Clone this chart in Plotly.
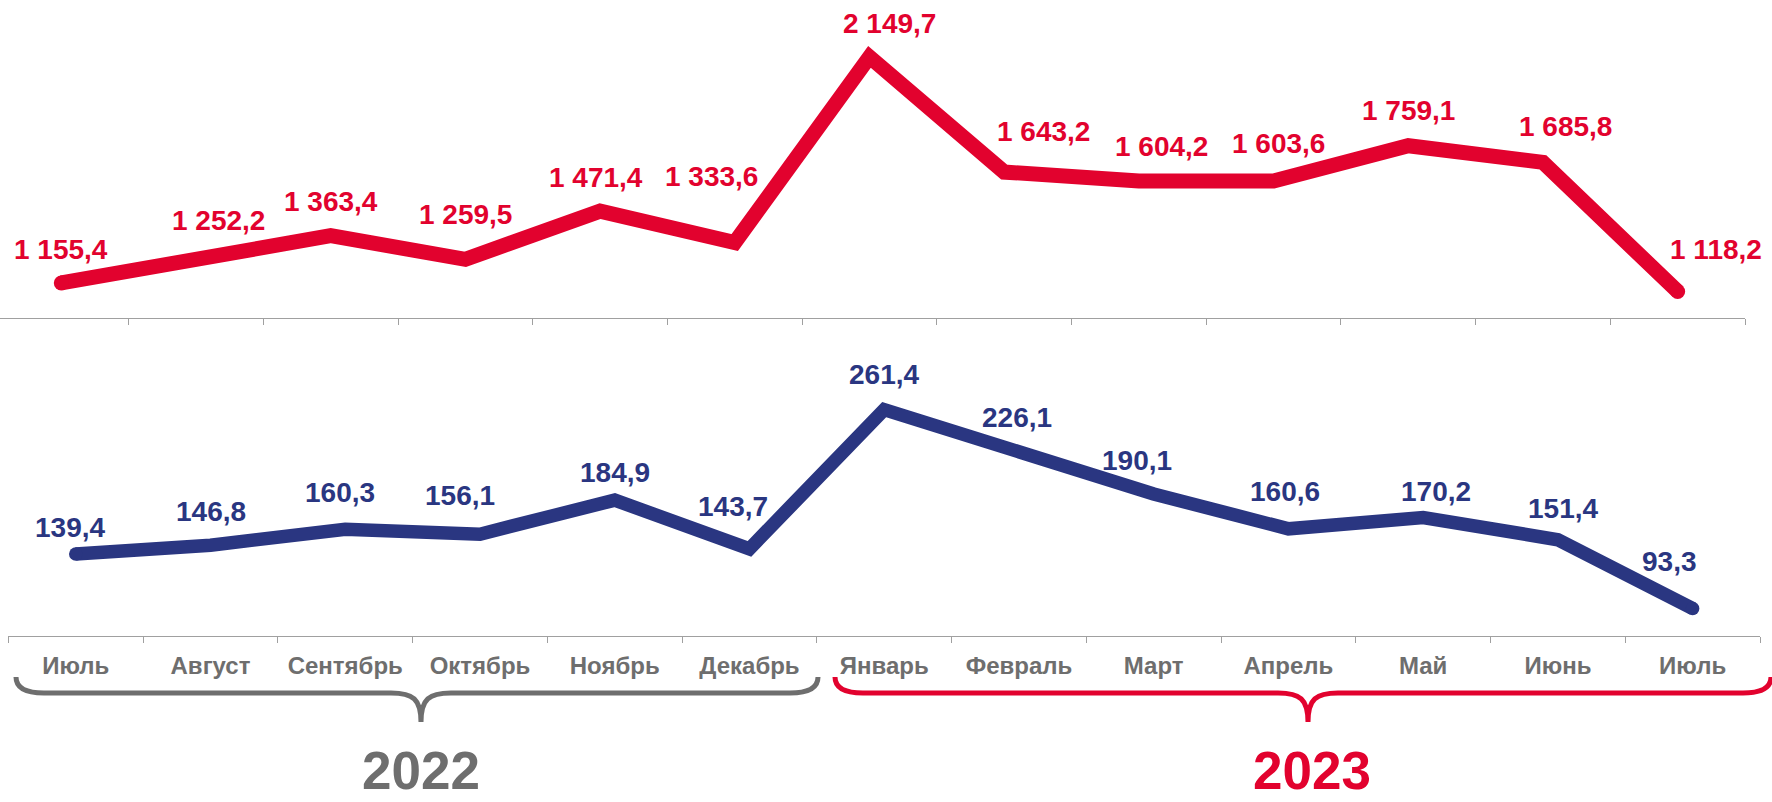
import plotly.graph_objects as go

# ---------------- data ----------------
months = ["Июль", "Август", "Сентябрь", "Октябрь", "Ноябрь", "Декабрь",
          "Январь", "Февраль", "Март", "Апрель", "Май", "Июнь", "Июль"]
top_values = [1155.4, 1252.2, 1363.4, 1259.5, 1471.4, 1333.6, 2149.7,
              1643.2, 1604.2, 1603.6, 1759.1, 1685.8, 1118.2]
bottom_values = [139.4, 146.8, 160.3, 156.1, 184.9, 143.7, 261.4,
                 226.1, 190.1, 160.6, 170.2, 151.4, 93.3]
years = ["2022", "2023"]

# ---------------- styles ----------------
W, H = 1772, 802
RED = "#E2022E"
BLUE = "#2A3681"
GRAY = "#6E6E6E"
AXIS_GRAY = "#A0A0A0"
FONT = "Liberation Sans, Arial, sans-serif"

# label offsets (pixels, label centre relative to point)
top_dx = [0, 23, 0, 0, -4, -23, 20, 39, 23, 5, 0, 23, 38]
top_dy = [33, 40, 34, 45, 34, 66, 33, 41, 34, 38, 35, 36, 42]
bot_dx = [-6, 0, -5, -20, 0, -16, 0, -2, -17, -3, 13, 5, -23]
bot_dy = [26, 34, 37, 39, 28, 42, 35, 34, 33, 37, 26, 31, 47]

x_idx = list(range(len(months)))
n = len(months)


def ru(v):
    s = f"{v:,.1f}"
    return s.replace(",", " ").replace(".", ",")


fig = go.Figure()


def add_line(values, color, width, xa, ya):
    fig.add_trace(go.Scatter(
        x=x_idx, y=values, mode="lines", xaxis=xa, yaxis=ya,
        line=dict(color=color, width=width),
        cliponaxis=False, hoverinfo="skip", showlegend=False))
    # round caps at both ends of the line
    ends = [0, n - 1]
    fig.add_trace(go.Scatter(
        x=[x_idx[i] for i in ends], y=[values[i] for i in ends],
        mode="markers", xaxis=xa, yaxis=ya,
        marker=dict(color=color, size=width, opacity=1, line=dict(width=0)),
        cliponaxis=False, hoverinfo="skip", showlegend=False))


add_line(top_values, RED, 15, "x", "y")
add_line(bottom_values, BLUE, 13.5, "x2", "y2")

annotations = []
for i, v in enumerate(top_values):
    annotations.append(dict(
        x=i, y=v, xref="x", yref="y", text=ru(v), showarrow=False,
        xanchor="center", yanchor="middle", xshift=top_dx[i], yshift=top_dy[i],
        font=dict(family=FONT, size=28, color=RED, weight="bold")))
for i, v in enumerate(bottom_values):
    annotations.append(dict(
        x=i, y=v, xref="x2", yref="y2", text=ru(v), showarrow=False,
        xanchor="center", yanchor="middle", xshift=bot_dx[i], yshift=bot_dy[i],
        font=dict(family=FONT, size=28, color=BLUE, weight="bold")))

# year labels
annotations.append(dict(
    x=421 / W, y=0, xref="paper", yref="paper", text=years[0],
    showarrow=False, xanchor="center", yanchor="bottom",
    font=dict(family=FONT, size=53, color=GRAY, weight="bold")))
annotations.append(dict(
    x=1312 / W, y=0, xref="paper", yref="paper", text=years[1],
    showarrow=False, xanchor="center", yanchor="bottom",
    font=dict(family=FONT, size=53, color=RED, weight="bold")))


def px(x, y):
    return f"{x / W:.5f},{1 - y / H:.5f}"


def brace(x0, x1, xc, ytop=677, yh=693, ytip=722, r=28):
    return (f"M{px(x0, ytop)} Q{px(x0, yh)} {px(x0 + r, yh)} "
            f"L{px(xc - 30, yh)} C{px(xc - 8, yh)} {px(xc, yh + 6)} {px(xc, ytip)} "
            f"C{px(xc, yh + 6)} {px(xc + 8, yh)} {px(xc + 30, yh)} "
            f"L{px(x1 - r, yh)} Q{px(x1, yh)} {px(x1, ytop)}")


shapes = [
    dict(type="path", xref="paper", yref="paper", path=brace(16, 818, 421),
         line=dict(color=GRAY, width=5)),
    dict(type="path", xref="paper", yref="paper", path=brace(835, 1771, 1308),
         line=dict(color=RED, width=5)),
]

fig.update_layout(
    width=W, height=H, autosize=False,
    margin=dict(l=0, r=0, t=0, b=0),
    paper_bgcolor="white", plot_bgcolor="white",
    annotations=annotations, shapes=shapes,
    xaxis=dict(domain=[0, 1745 / W], range=[-0.455, 12.5], anchor="y",
               showgrid=False, zeroline=False, showline=True,
               linecolor=AXIS_GRAY, linewidth=1.3,
               tickmode="array", tickvals=[i + 0.5 for i in x_idx],
               ticks="outside", ticklen=6, tickcolor=AXIS_GRAY, tickwidth=1.3,
               showticklabels=False),
    yaxis=dict(domain=[1 - 318.3 / H, 1], range=[1000, 2400], anchor="x",
               visible=False),
    xaxis2=dict(domain=[8.4 / W, 1760 / W], range=[-0.5, 12.5], anchor="y2",
                showgrid=False, zeroline=False, showline=True,
                linecolor=AXIS_GRAY, linewidth=1.3,
                tickmode="array", tickvals=x_idx, ticktext=months, ticks="",
                ticklabelstandoff=8,
                tickfont=dict(family=FONT, size=24, color=GRAY, weight="bold"),
                minor=dict(tickmode="array", tickvals=[i - 0.5 for i in x_idx] + [12.5],
                           ticks="outside", ticklen=6, tickcolor=AXIS_GRAY,
                           tickwidth=1.3, showgrid=False)),
    yaxis2=dict(domain=[1 - 636 / H, 1 - 328.5 / H], range=[70, 330], anchor="x2",
                visible=False),
)

fig.write_html("out.html",
               config={"displayModeBar": False},
               post_script="document.body.style.margin='0';"
                           "document.body.style.overflow='hidden';")
